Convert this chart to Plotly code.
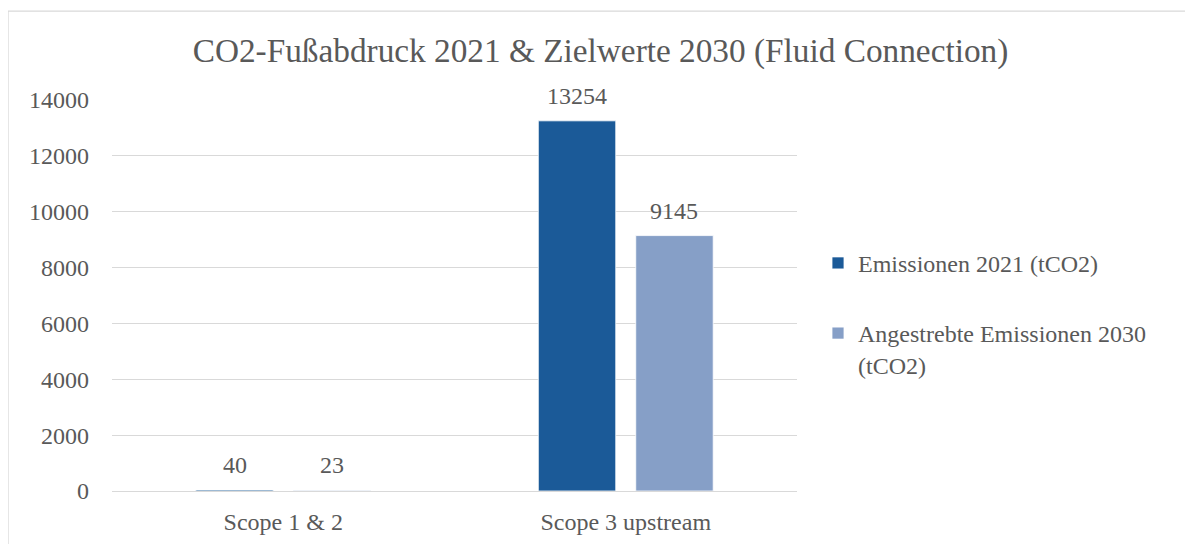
import plotly.graph_objects as go

categories = ["Scope 1 & 2", "Scope 3 upstream"]
emissions_2021 = [40, 13254]
target_2030 = [23, 9145]
series_names = ["Emissionen 2021 (tCO2)", "Angestrebte Emissionen 2030<br>(tCO2)"]
y_ticks = [0, 2000, 4000, 6000, 8000, 10000, 12000, 14000]
title_text = "CO2-Fußabdruck 2021 & Zielwerte 2030 (Fluid Connection)"

FONT = "Liberation Serif"
GRAY = "#595959"
C1 = "#1B5A98"
C2 = "#869FC7"

# page has an 8px body margin
W, H = 1185, 536
L, T = 104, 92
pw, ph = 685, 391.5
R = W - L - pw
B = H - T - ph
BARGAP, GROUPGAP = 0.431, 0.205

fig = go.Figure()
series = [(emissions_2021, series_names[0], C1, "a"),
          (target_2030, series_names[1], C2, "b")]
for vals, name, col, grp in series:
    fig.add_trace(go.Bar(
        x=categories, y=vals, name=name,
        marker=dict(color=col, line=dict(color="white", width=0.8)),
        legendgroup=grp,
    ))

# data labels above bars
cat_w = pw / len(categories)
slot = (1 - BARGAP) * cat_w / len(series)
annotations = []
for si, (vals, name, col, grp) in enumerate(series):
    off = (si - (len(series) - 1) / 2) * slot
    for c, v in zip(categories, vals):
        annotations.append(dict(
            x=c, y=v, xref="x", yref="y", text=str(v), showarrow=False,
            xanchor="center", yanchor="bottom", xshift=off, yshift=10,
            font=dict(family=FONT, size=24, color=GRAY)))

fig.update_layout(
    width=W, height=H,
    margin=dict(l=L, r=R, t=T, b=B, pad=0, autoexpand=False),
    paper_bgcolor="white", plot_bgcolor="white",
    font=dict(family=FONT, color=GRAY, size=24),
    title=dict(text=title_text, x=0.5, xref="container", xanchor="center",
               y=0.921, yref="container", yanchor="middle",
               font=dict(family=FONT, size=33.3, color=GRAY)),
    barmode="group", bargap=BARGAP, bargroupgap=GROUPGAP,
    showlegend=True,
    legend=dict(x=706 / pw, xanchor="left", y=(ph - 141) / ph,
                yanchor="top", font=dict(family=FONT, size=24, color=GRAY),
                tracegroupgap=36, valign="top", bgcolor="rgba(0,0,0,0)"),
    xaxis=dict(showgrid=False, showline=True, linecolor="#D9D9D9", linewidth=1.3,
               ticks="", ticklabelstandoff=9, automargin=False,
               tickfont=dict(family=FONT, size=24, color=GRAY)),
    yaxis=dict(range=[0, 14000], tickvals=y_ticks, ticktext=[str(t) for t in y_ticks],
               showgrid=True, automargin=False,
               gridcolor="#D9D9D9", gridwidth=1.3, zeroline=False,
               showline=False, ticks="", ticklabelstandoff=22,
               tickfont=dict(family=FONT, size=24, color=GRAY)),
    annotations=annotations,
    shapes=[dict(type="rect", xref="paper", yref="paper",
                 x0=(0 - L) / pw, x1=(1181 - L) / pw,
                 y0=(ph + T - 560) / ph, y1=(ph + T - 3) / ph,
                 line=dict(color="#D9D9D9", width=1.3), fillcolor="rgba(0,0,0,0)",
                 layer="below")],
)

fig.write_html("out.html")
